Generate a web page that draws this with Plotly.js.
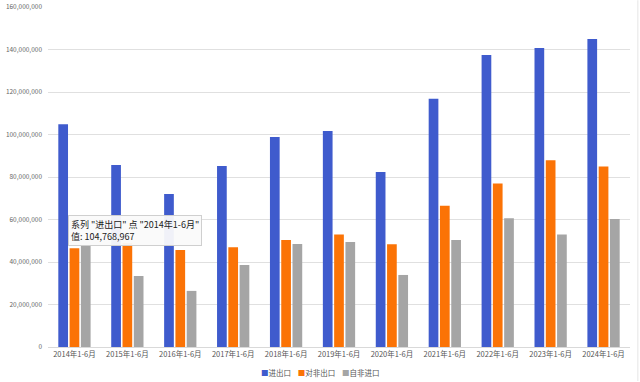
<!DOCTYPE html>
<html><head><meta charset="utf-8">
<script src="https://cdn.plot.ly/plotly-3.0.1.min.js"></script>
<style>html,body{margin:0;padding:0;background:#fff}#c{width:640px;height:382px}</style>
</head><body><div id="c"></div>
<script>
const categories = ["2014年1-6月","2015年1-6月","2016年1-6月","2017年1-6月","2018年1-6月","2019年1-6月","2020年1-6月","2021年1-6月","2022年1-6月","2023年1-6月","2024年1-6月"];
const totalTrade = [104768967, 85600000, 72000000, 85200000, 98800000, 101600000, 82300000, 116800000, 137400000, 140700000, 144900000];
const exportsToAfrica = [46500000, 49000000, 45600000, 47000000, 50300000, 53000000, 48300000, 66500000, 76900000, 87900000, 84900000];
const importsFromAfrica = [48000000, 33400000, 26400000, 38600000, 48500000, 49400000, 33900000, 50400000, 60600000, 53000000, 60200000];
const seriesNames = ["进出口","对非出口","自非进口"];
const yTicks = [0,20000000,40000000,60000000,80000000,100000000,120000000,140000000,160000000];

const colors = ["#3f5bcd","#fb7306","#a5a5a5"];
const font = "Noto Sans CJK SC, Noto Sans, sans-serif";
const traces = [totalTrade, exportsToAfrica, importsFromAfrica].map((v,i)=>({
  type:"bar", x:categories, y:v, name:seriesNames[i], marker:{color:colors[i]}
}));
const legendText = seriesNames.map((n,i)=>`<span style="color:${colors[i]}">■</span>${n}`).join("&nbsp;&nbsp;&nbsp;&nbsp;");
const layout = {
  width:640, height:382,
  margin:{l:48,r:10,t:7,b:35,autoexpand:false},
  paper_bgcolor:"#fff", plot_bgcolor:"#fff",
  barmode:"group", bargap:0.36, bargroupgap:0.14,
  font:{family:font, size:7, color:"#555"},
  xaxis:{type:"category", tickfont:{size:7.5,color:"#555"}, showline:true, linecolor:"#d9d9d9", linewidth:1, ticks:"", showgrid:false, automargin:false},
  yaxis:{range:[0,160000000], tickvals:yTicks, tickformat:",d", gridcolor:"#e0e0e0", gridwidth:1, zeroline:false, ticks:"", ticklen:0, ticklabelstandoff:5, tickfont:{size:6.5,color:"#666"}, automargin:false},
  showlegend:false,
  shapes:[{type:"line", xref:"paper", yref:"paper", x0:1.0135, x1:1.0135, y0:-0.1, y1:1.02, line:{color:"#e6e6e6", width:1}}],
  annotations:[{
    xref:"paper", yref:"paper", x:0.034, y:0.296, xanchor:"left", yanchor:"bottom",
    text:"系列 \"进出口\" 点 \"2014年1-6月\"<br>值: 104,768,967", align:"left",
    showarrow:false, bgcolor:"rgba(250,250,250,0.95)", bordercolor:"#cfcfcf", borderwidth:1, borderpad:2,
    font:{size:9, color:"#222", family:font}
  },{
    xref:"paper", yref:"paper", x:0.467, y:-0.052, xanchor:"center", yanchor:"top",
    text:legendText, showarrow:false, font:{size:7.5, color:"#555", family:font}
  }]
};
Plotly.newPlot("c", traces, layout, {displayModeBar:false, staticPlot:true});
</script></body></html>
